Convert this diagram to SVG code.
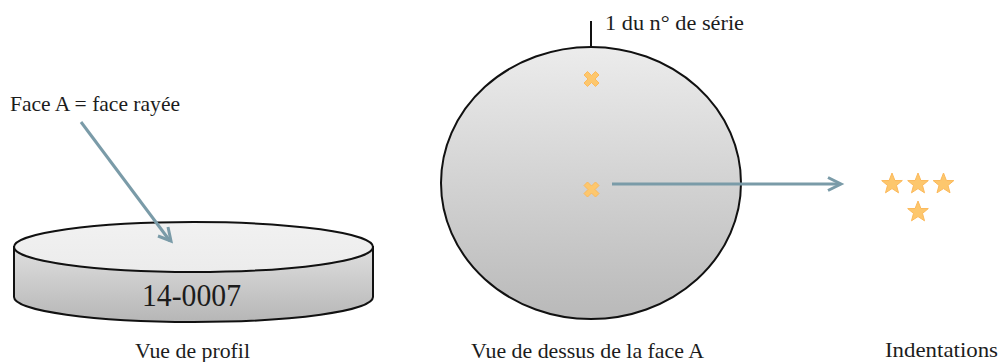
<svg xmlns="http://www.w3.org/2000/svg" width="1000" height="362" viewBox="0 0 1000 362">
<style>
text{font-family:"Liberation Serif",serif;fill:#1c1c1c;font-size:22px}
.big{font-size:31px}
.shape{stroke:#111;stroke-width:2}
.conn{fill:none;stroke:#7a9ba8;stroke-width:3}
.mark{fill:#fdc76d;stroke:#fcb95a;stroke-width:1}
</style>
<defs>
<linearGradient id="gSide" x1="0" y1="0" x2="0" y2="1"><stop offset="0" stop-color="#dfdfdf"/><stop offset="1" stop-color="#b6b6b6"/></linearGradient>
<linearGradient id="gTop" x1="0" y1="0" x2="0" y2="1"><stop offset="0" stop-color="#f1f1f1"/><stop offset="1" stop-color="#ececec"/></linearGradient>
<linearGradient id="gDisc" x1="0" y1="0" x2="0" y2="1"><stop offset="0" stop-color="#ececec"/><stop offset="1" stop-color="#b9b9b9"/></linearGradient>
<polygon id="star" points="0,-11 2.9,-3.5 10.3,-3.4 4.5,1.4 6.5,8.8 0,4.6 -6.5,8.8 -4.5,1.4 -10.3,-3.4 -2.9,-3.500"/>
<polygon id="cross" points="-4,-7.5 0,-3.5 4,-7.5 7.5,-4 3.5,0 7.5,4 4,7.5 0,3.5 -4,7.5 -7.5,4 -3.5,0 -7.5,-4"/>
</defs>
<g id="profile">
<path class="shape" fill="url(#gSide)" d="M14 247V297C14 311 94 322 193.500 322S373 311 373 297V247Z"/>
<ellipse class="shape" fill="url(#gTop)" cx="193.500" cy="247" rx="179.500" ry="25"/>
<text class="big" x="142" y="306" textLength="99" lengthAdjust="spacingAndGlyphs">14-0007</text>
</g>
<g id="disc">
<ellipse class="shape" fill="url(#gDisc)" cx="591" cy="183" rx="150" ry="136"/>
<line class="shape" x1="591" y1="21" x2="591" y2="47"/>
<use class="mark" href="#cross" x="591.500" y="79"/>
<use class="mark" href="#cross" x="591.500" y="189.500"/>
</g>
<g id="indentations">
<use class="mark" href="#star" x="892" y="184"/>
<use class="mark" href="#star" x="918" y="184"/>
<use class="mark" href="#star" x="943.500" y="184"/>
<use class="mark" href="#star" x="918" y="212"/>
</g>
<g id="connectors">
<path class="conn" d="M81 122L170 241"/>
<path class="conn" d="M168 227L171 241L158 236"/>
<path class="conn" d="M612 184H840"/>
<path class="conn" d="M828 177.500L841 184L828 190.500"/>
</g>
<g id="labels">
<text x="10" y="111" textLength="170" lengthAdjust="spacingAndGlyphs">Face A = face rayée</text>
<text x="605" y="30" textLength="139" lengthAdjust="spacingAndGlyphs">1 du n° de série</text>
<text x="135" y="358" textLength="115" lengthAdjust="spacingAndGlyphs">Vue de profil</text>
<text x="471" y="358" textLength="233" lengthAdjust="spacingAndGlyphs">Vue de dessus de la face A</text>
<text x="885" y="357" textLength="113" lengthAdjust="spacingAndGlyphs">Indentations</text>
</g>
</svg>
